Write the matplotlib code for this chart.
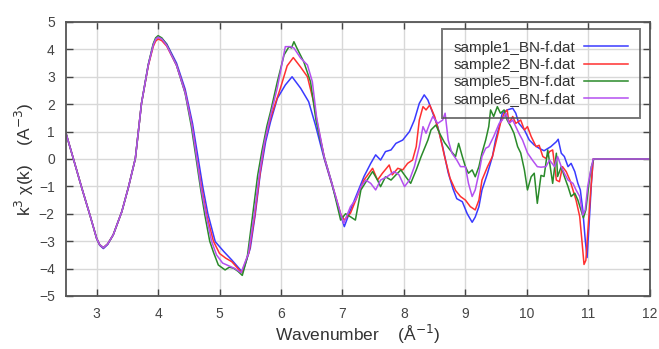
import matplotlib
matplotlib.use("Agg")
import matplotlib.pyplot as plt

plt.rcParams['font.family'] = ['Liberation Sans', 'DejaVu Sans']

# sample1 (blue)
k_s1 = [2.5, 2.62, 2.76, 2.89, 3.0, 3.05, 3.11, 3.18, 3.27, 3.41, 3.52, 3.63, 3.73, 3.84, 3.92,
        3.96, 4.0, 4.06, 4.14, 4.30, 4.44, 4.56, 4.65, 4.73, 4.81, 4.93, 5.07, 5.20, 5.34, 5.38,
        5.50, 5.58, 5.66, 5.75, 5.83, 5.94, 6.07, 6.18, 6.32, 6.45, 6.56, 6.70, 6.83, 6.97, 7.03,
        7.13, 7.24, 7.35, 7.46, 7.54, 7.62, 7.70, 7.79, 7.87, 7.98, 8.09, 8.17, 8.25, 8.33, 8.39,
        8.47, 8.55, 8.63, 8.72, 8.80, 8.86, 8.95, 9.03, 9.11, 9.16, 9.22, 9.27, 9.36, 9.44,
        9.49, 9.55, 9.60, 9.68, 9.77, 9.82, 9.87, 9.96, 10.04, 10.12, 10.20, 10.28, 10.39,
        10.48, 10.51, 10.56, 10.61, 10.67, 10.72, 10.78, 10.83, 10.87, 10.91, 10.95, 10.98,
        11.02, 11.05, 11.08, 12.0]
chi_s1 = [0.95, 0.02, -1.07, -2.04, -2.9, -3.15, -3.27, -3.12, -2.77, -1.92, -1.01, 0.02, 2.03, 3.43, 4.16,
          4.38, 4.45, 4.40, 4.2, 3.5, 2.55, 1.3, 0.05, -1.05, -2.0, -3.02, -3.38, -3.69, -4.05, -4.11,
          -3.26, -2.04, -0.58, 0.63, 1.36, 2.21, 2.70, 3.0, 2.58, 2.09, 1.24, 0.03, -0.95, -2.04, -2.47,
          -1.86, -1.25, -0.64, -0.16, 0.15, -0.04, 0.27, 0.33, 0.57, 0.69, 1.0, 1.42, 2.03, 2.34, 2.15,
          1.67, 1.18, 0.45, -0.5, -1.1, -1.45, -1.56, -2.0, -2.31, -2.12, -1.74, -1.13, -0.52, 0.09,
          0.69, 1.18, 1.67, 1.79, 1.85, 1.67, 1.30, 1.06, 0.69, 0.51, 0.39, 0.3, 0.45,
          0.63, 0.72, 0.21, 0.09, -0.28, -0.16, -0.46, -0.89, -1.13, -1.86, -2.96, -3.6,
          -2.09, -0.89, 0.0, 0.0]

# sample2 (red)
k_s2 = [2.5, 2.62, 2.76, 2.89, 3.0, 3.05, 3.11, 3.18, 3.27, 3.41, 3.52, 3.63, 3.73, 3.84, 3.92,
        3.96, 4.0, 4.06, 4.14, 4.30, 4.44, 4.55, 4.63, 4.71, 4.79, 4.90, 5.0, 5.10, 5.20, 5.30,
        5.36, 5.48, 5.57, 5.66, 5.74, 5.83, 5.99, 6.10, 6.20, 6.32, 6.43, 6.53, 6.60, 6.71, 6.84,
        6.97, 7.03, 7.13, 7.24, 7.35, 7.49, 7.57, 7.65, 7.76, 7.81, 7.90, 7.98, 8.06, 8.14, 8.20,
        8.25, 8.31, 8.36, 8.42, 8.50, 8.58, 8.66, 8.75, 8.84, 8.92, 9.0, 9.08, 9.16, 9.22,
        9.27, 9.36, 9.44, 9.52, 9.57, 9.63, 9.68, 9.71, 9.77, 9.82, 9.90, 9.96, 10.01, 10.07,
        10.15, 10.20, 10.26, 10.31, 10.37, 10.42, 10.48, 10.53, 10.58, 10.64, 10.70, 10.75,
        10.80, 10.86, 10.90, 10.93, 10.96, 10.99, 11.04, 11.08, 12.0]
chi_s2 = [0.95, 0.02, -1.07, -2.04, -2.9, -3.13, -3.24, -3.10, -2.77, -1.92, -1.01, 0.02, 2.03, 3.40, 4.10,
          4.30, 4.38, 4.32, 4.12, 3.42, 2.45, 1.24, 0.03, -1.07, -2.04, -3.0, -3.45, -3.62, -3.75, -4.0,
          -4.15, -3.4, -2.1, -0.5, 0.7, 1.5, 2.58, 3.4, 3.70, 3.35, 3.0, 2.09, 1.2, 0.0, -1.0,
          -2.0, -2.23, -1.98, -1.37, -0.77, -0.34, -0.77, -0.52, -0.22, -0.58, -0.34, -0.40, -0.16, -0.04, 0.45,
          1.42, 1.91, 1.79, 1.97, 1.55, 0.9, 0.1, -0.7, -1.15, -1.37, -1.50, -1.74, -1.86, -1.50,
          -0.77, -0.28, 0.09, 0.82, 1.30, 1.67, 1.79, 1.30, 1.55, 1.30, 1.42, 1.06, 1.18, 0.82,
          0.45, 0.5, 0.09, 0.02, 0.27, 0.33, -0.77, -0.83, -0.28, -0.46, -0.77, -1.13,
          -1.50, -2.10, -3.08, -3.85, -3.7, -2.71, -1.13, 0.0, 0.0]

# sample5 (green)
k_s5 = [2.5, 2.62, 2.76, 2.89, 3.0, 3.05, 3.11, 3.18, 3.27, 3.41, 3.52, 3.63, 3.73, 3.84, 3.92,
        3.96, 4.0, 4.06, 4.14, 4.30, 4.44, 4.54, 4.62, 4.69, 4.76, 4.84, 4.90, 4.98, 5.09, 5.16,
        5.23, 5.30, 5.37, 5.45, 5.53, 5.62, 5.69, 5.77, 5.83, 5.94, 6.05, 6.13, 6.17, 6.21, 6.26,
        6.37, 6.48, 6.57, 6.70, 6.83, 6.97, 7.05, 7.13, 7.21, 7.30, 7.40, 7.49, 7.57, 7.62, 7.70,
        7.79, 7.87, 7.95, 8.03, 8.11, 8.20, 8.28, 8.39, 8.44, 8.52, 8.58, 8.66, 8.75, 8.84,
        8.89, 8.95, 9.0, 9.05, 9.11, 9.16, 9.22, 9.27, 9.33, 9.38, 9.41, 9.46, 9.52, 9.57,
        9.63, 9.68, 9.74, 9.79, 9.85, 9.90, 9.96, 10.01, 10.07, 10.12, 10.17, 10.23, 10.28,
        10.34, 10.38, 10.42, 10.48, 10.50, 10.56, 10.61, 10.67, 10.72, 10.78, 10.83, 10.88,
        10.92, 10.96, 11.01, 11.05, 11.09, 12.0]
chi_s5 = [0.95, 0.02, -1.07, -2.04, -2.9, -3.13, -3.24, -3.10, -2.77, -1.92, -1.01, 0.02, 2.03, 3.45, 4.2,
          4.42, 4.50, 4.42, 4.18, 3.42, 2.4, 1.2, 0.0, -1.07, -2.04, -3.0, -3.4, -3.87, -4.05, -3.95,
          -3.99, -4.1, -4.25, -3.6, -2.2, -0.6, 0.3, 1.2, 1.73, 2.82, 3.8, 4.1, 4.05, 4.28, 4.04,
          3.55, 2.82, 1.4, 0.1, -0.9, -2.23, -2.0, -2.11, -2.23, -1.13, -0.77, -0.46, -0.77, -1.01, -0.65,
          -0.77, -0.58, -0.40, -0.65, -0.89, -0.40, 0.09, 0.69, 1.06, 1.24, 0.94, 0.6, 0.33, 0.09,
          0.57, 0.09, -0.28, -0.52, -0.40, -0.65, -0.28, 0.22, 0.69, 1.18, 1.79, 1.55, 1.91, 1.67,
          1.79, 1.42, 1.18, 0.94, 0.45, 0.22, -0.40, -1.13, -0.65, -0.52, -1.62, -0.6, -0.64,
          0.33, -0.28, -0.89, 0.21, -0.64, -0.28, -0.64, -1.01, -1.37, -1.25, -1.50, -1.86,
          -2.15, -1.86, -0.89, -0.28, 0.0, 0.0]

# sample6 (purple)
k_s6 = [2.5, 2.62, 2.76, 2.89, 3.0, 3.05, 3.11, 3.18, 3.27, 3.41, 3.52, 3.63, 3.73, 3.84, 3.92,
        3.96, 4.0, 4.06, 4.14, 4.30, 4.44, 4.55, 4.63, 4.70, 4.78, 4.87, 4.95, 5.05, 5.15, 5.25,
        5.35, 5.47, 5.56, 5.65, 5.73, 5.82, 5.94, 6.07, 6.15, 6.21, 6.32, 6.43, 6.51, 6.58, 6.70,
        6.83, 6.97, 7.02, 7.13, 7.21, 7.30, 7.38, 7.46, 7.54, 7.62, 7.73, 7.84, 7.92, 8.01, 8.09,
        8.17, 8.25, 8.31, 8.36, 8.42, 8.47, 8.55, 8.63, 8.67, 8.72, 8.78, 8.86, 8.92, 9.0,
        9.05, 9.11, 9.16, 9.22, 9.27, 9.33, 9.38, 9.46, 9.55, 9.60, 9.66, 9.71, 9.77, 9.82,
        9.87, 9.93, 10.01, 10.09, 10.17, 10.23, 10.31, 10.37, 10.45, 10.50, 10.56, 10.61,
        10.67, 10.75, 10.80, 10.86, 10.91, 10.95, 10.99, 11.04, 11.08, 12.0]
chi_s6 = [0.95, 0.02, -1.07, -2.04, -2.9, -3.13, -3.24, -3.10, -2.77, -1.92, -1.01, 0.02, 2.03, 3.43, 4.15,
          4.37, 4.45, 4.38, 4.15, 3.42, 2.42, 1.22, 0.02, -1.07, -2.04, -3.0, -3.5, -3.8, -3.9, -4.0,
          -4.15, -3.45, -2.1, -0.5, 0.6, 1.5, 2.6, 4.1, 4.1, 4.05, 3.68, 3.43, 2.82, 1.5, 0.1,
          -0.9, -2.0, -2.35, -1.74, -1.50, -1.01, -0.77, -0.89, -1.13, -0.77, -0.64, -0.46, -0.58, -1.01, -0.77,
          -0.28, 0.45, 1.18, 0.94, 1.30, 1.55, 1.30, 1.42, 1.67, 0.69, 0.22, -0.04, -0.28, -0.28,
          -0.89, -1.37, -1.13, -0.52, 0.09, 0.39, 0.45, 0.82, 1.30, 1.42, 1.67, 1.30, 1.42, 1.18,
          0.94, 0.69, 0.22, -0.04, -0.28, -0.3, -0.28, -0.04, -0.28, 0.09, -0.28, -0.52,
          -0.77, -0.89, -1.13, -1.37, -2.05, -1.86, -1.01, -0.40, 0.0, 0.0]

labels = ['sample1_BN-f.dat', 'sample2_BN-f.dat', 'sample5_BN-f.dat', 'sample6_BN-f.dat']
colors = ['#3a3aff', '#ff3030', '#2a8a2a', '#b450f0']
series = [(k_s1, chi_s1), (k_s2, chi_s2), (k_s5, chi_s5), (k_s6, chi_s6)]

fig = plt.figure(figsize=(6.59, 3.49), dpi=100)
ax = fig.add_axes([0.100, 0.152, 0.886, 0.785])

for (k, chi), lab, col in zip(series, labels, colors):
    ax.plot(k, chi, color=col, lw=1.1, label=lab)

ax.set_xlim(2.5, 12)
ax.set_ylim(-5, 5)
ax.set_xticks(range(3, 13))
ax.set_yticks(range(-5, 6))
ax.grid(True, color='#d8d8d8', lw=1.0)
ax.set_axisbelow(True)
ax.tick_params(direction='in', top=True, right=True, length=5, width=1.0,
               colors='#444444', labelsize=10, pad=8)
for sp in ax.spines.values():
    sp.set_color('#555555')
    sp.set_linewidth(1.3)

ax.set_xlabel('Wavenumber    (Å$^{-1}$)', fontsize=12.5, color='#333333', labelpad=1)
ax.set_ylabel('k$^3$ χ(k)    (A$^{-3}$)', fontsize=12.5, color='#333333', labelpad=2)

leg = ax.legend(loc='upper right', bbox_to_anchor=(0.983, 0.974), borderaxespad=0,
                markerfirst=False, fontsize=11, labelspacing=0.22, handlelength=2.9,
                fancybox=False, borderpad=0.75, handletextpad=0.6)
leg.get_frame().set_facecolor('none')
leg.get_frame().set_edgecolor('#555555')
leg.get_frame().set_linewidth(1.4)
for t in leg.get_texts():
    t.set_color('#333333')

fig.savefig('out.png', dpi=100)
